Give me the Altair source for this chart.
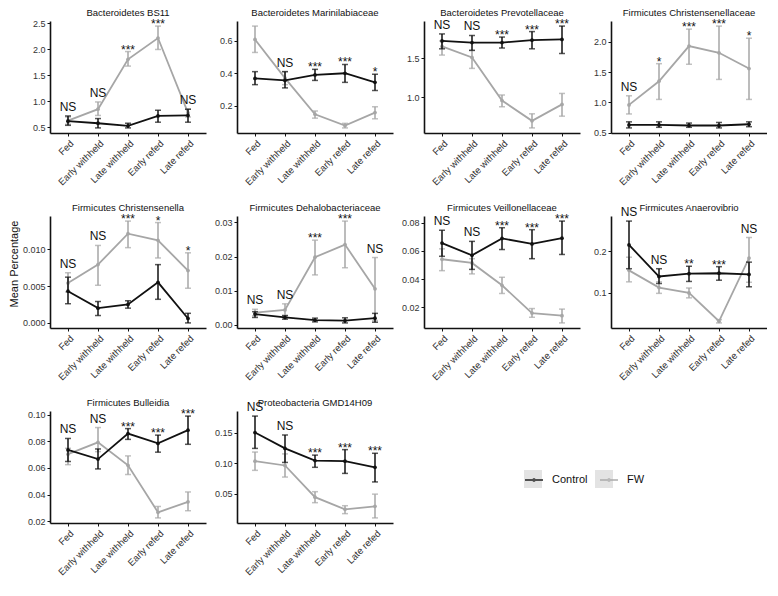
import altair as alt
import pandas as pd

STAGES = ["Fed", "Early withheld", "Late withheld", "Early refed", "Late refed"]
GROUPS = ["Control", "FW"]

TITLES = [
    "Bacteroidetes BS11", "Bacteroidetes Marinilabiaceae", "Bacteroidetes Prevotellaceae",
    "Firmicutes Christensenellaceae", "Firmicutes Christensenella", "Firmicutes Dehalobacteriaceae",
    "Firmicutes Veillonellaceae", "Firmicutes Anaerovibrio", "Firmicutes Bulleidia",
    "Proteobacteria GMD14H09",
]
Y_TICKS = [
    [0.5, 1.0, 1.5, 2.0, 2.5], [0.2, 0.4, 0.6], [1.0, 1.5], [0.5, 1.0, 1.5, 2.0],
    [0.0, 0.005, 0.010], [0.0, 0.01, 0.02, 0.03], [0.02, 0.04, 0.06, 0.08],
    [0.1, 0.2], [0.02, 0.04, 0.06, 0.08, 0.10], [0.05, 0.10, 0.15],
]
Y_FORMATS = [".1f", ".1f", ".1f", ".1f", ".3f", ".2f", ".2f", ".1f", ".2f", ".2f"]

CTRL_MEAN = [
    [0.62, 0.58, 0.53, 0.72, 0.73],
    [0.368, 0.356, 0.39, 0.40, 0.344],
    [1.72, 1.70, 1.70, 1.73, 1.74],
    [0.63, 0.63, 0.62, 0.62, 0.64],
    [0.0043, 0.0020, 0.0025, 0.0055, 0.0006],
    [0.0031, 0.0021, 0.0013, 0.0012, 0.0019],
    [0.0656, 0.0569, 0.0689, 0.0650, 0.0691],
    [0.216, 0.139, 0.146, 0.147, 0.144],
    [0.0736, 0.0667, 0.0859, 0.0785, 0.0884],
    [0.150, 0.124, 0.104, 0.103, 0.093],
]
CTRL_LO = [
    [0.54, 0.49, 0.49, 0.60, 0.60],
    [0.33, 0.31, 0.356, 0.344, 0.294],
    [1.62, 1.60, 1.63, 1.62, 1.56],
    [0.58, 0.59, 0.59, 0.58, 0.60],
    [0.0026, 0.0010, 0.0020, 0.0032, 0.0000],
    [0.0021, 0.0016, 0.0008, 0.0005, 0.0007],
    [0.0562, 0.0469, 0.0610, 0.0545, 0.0575],
    [0.158, 0.122, 0.127, 0.130, 0.114],
    [0.0649, 0.0593, 0.0815, 0.0719, 0.0778],
    [0.124, 0.101, 0.093, 0.083, 0.069],
]
CTRL_HI = [
    [0.72, 0.67, 0.58, 0.83, 0.85],
    [0.41, 0.41, 0.424, 0.454, 0.394],
    [1.81, 1.79, 1.77, 1.84, 1.91],
    [0.68, 0.68, 0.66, 0.67, 0.68],
    [0.0062, 0.0029, 0.0030, 0.0079, 0.0013],
    [0.0038, 0.0026, 0.0019, 0.0020, 0.0033],
    [0.0747, 0.0668, 0.0765, 0.0751, 0.0812],
    [0.274, 0.158, 0.164, 0.163, 0.174],
    [0.0822, 0.0743, 0.0896, 0.0847, 0.0990],
    [0.177, 0.146, 0.113, 0.122, 0.116],
]
FW_MEAN = [
    [0.63, 0.85, 1.81, 2.22, 0.78],
    [0.608, 0.37, 0.148, 0.078, 0.158],
    [1.65, 1.51, 0.96, 0.70, 0.91],
    [0.96, 1.35, 1.93, 1.82, 1.56],
    [0.0054, 0.0079, 0.0121, 0.0112, 0.0071],
    [0.0035, 0.0043, 0.0198, 0.0235, 0.0105],
    [0.0541, 0.0515, 0.0356, 0.0159, 0.0140],
    [0.154, 0.112, 0.099, 0.030, 0.184],
    [0.0704, 0.0793, 0.0620, 0.0267, 0.0346],
    [0.103, 0.096, 0.044, 0.024, 0.029],
]
FW_LO = [
    [0.56, 0.73, 1.68, 2.00, 0.70],
    [0.528, 0.33, 0.124, 0.064, 0.12],
    [1.54, 1.37, 0.88, 0.61, 0.76],
    [0.81, 1.05, 1.63, 1.38, 1.05],
    [0.0042, 0.0051, 0.0102, 0.0088, 0.0047],
    [0.0026, 0.0028, 0.0146, 0.0167, 0.0012],
    [0.0460, 0.0437, 0.0298, 0.0129, 0.0089],
    [0.126, 0.098, 0.087, 0.026, 0.125],
    [0.0625, 0.0723, 0.0551, 0.0225, 0.0279],
    [0.088, 0.077, 0.035, 0.017, 0.010],
]
FW_HI = [
    [0.70, 0.99, 1.96, 2.45, 0.85],
    [0.69, 0.41, 0.168, 0.092, 0.194],
    [1.72, 1.60, 1.03, 0.79, 1.05],
    [1.11, 1.64, 2.21, 2.26, 2.06],
    [0.0068, 0.0105, 0.0138, 0.0136, 0.0095],
    [0.0045, 0.0061, 0.0248, 0.0304, 0.0197],
    [0.0615, 0.0545, 0.0413, 0.0191, 0.0187],
    [0.186, 0.126, 0.111, 0.034, 0.234],
    [0.0748, 0.0904, 0.0691, 0.0311, 0.0420],
    [0.118, 0.115, 0.053, 0.030, 0.049],
]
SIG = [
    ["NS", "NS", "***", "***", "NS"],
    ["", "NS", "***", "***", "*"],
    ["NS", "NS", "***", "***", "***"],
    ["NS", "*", "***", "***", "*"],
    ["NS", "NS", "***", "*", "*"],
    ["NS", "NS", "***", "***", "NS"],
    ["NS", "NS", "***", "***", "***"],
    ["NS", "NS", "**", "***", "NS"],
    ["NS", "NS", "***", "***", "***"],
    ["NS", "NS", "***", "***", "***"],
]

FONT = "Liberation Sans"
W, H = 156, 112
TOP = 13
COLORS = ["#111111", "#a6a6a6"]
KEY_BG = "#e3e3e3"
LEG_X, LEG_Y = 474, 449
KEYS = [g + "_key" for g in GROUPS]

rows = []
for p in range(len(TITLES)):
    series = {
        "Control": (CTRL_MEAN[p], CTRL_LO[p], CTRL_HI[p]),
        "FW": (FW_MEAN[p], FW_LO[p], FW_HI[p]),
    }
    for g in GROUPS:
        m, lo, hi = series[g]
        for i, s in enumerate(STAGES):
            rows.append({"panel": p, "stage": s, "group": g, "key": g + "_key",
                         "mean": m[i], "lo": lo[i], "hi": hi[i]})
df = pd.DataFrame(rows)

legend = alt.Legend(
    title=None, orient="none", legendX=LEG_X, legendY=LEG_Y, direction="horizontal",
    symbolType="M-1,0H1M-0.1,0a0.1,0.1 0 1,0 0.2,0a0.1,0.1 0 1,0 -0.2,0",
    symbolSize=324, symbolStrokeWidth=2, labelFont=FONT, labelFontSize=11,
    labelColor="#111111", columnPadding=8, labelOffset=8, zindex=2,
)
# grey key boxes behind the legend symbols (no labels)
key_legend = alt.Legend(
    title=None, orient="none", legendX=LEG_X, legendY=LEG_Y, direction="horizontal",
    symbolType="square", symbolSize=324, symbolFillColor=KEY_BG, symbolStrokeWidth=0,
    symbolOpacity=1, labelFontSize=11, labelExpr="''",
    columnPadding=53, labelOffset=0, zindex=1,
)
color = alt.Color("group:N", scale=alt.Scale(domain=GROUPS, range=COLORS), legend=legend)


def panel(p, left_ext, ytitle=False, keys=False):
    d = df[df.panel == p]
    ymin = min(CTRL_LO[p] + FW_LO[p])
    ymax = max(CTRL_HI[p] + FW_HI[p])
    pad = 0.05 * (ymax - ymin)
    yscale = alt.Scale(domain=[ymin - pad, ymax + pad], nice=False, zero=False)
    yaxis = alt.Axis(
        title=None, values=Y_TICKS[p], format=Y_FORMATS[p], grid=False,
        labelFont=FONT, labelFontSize=9, labelColor="#333333", tickSize=3,
        tickColor="#111111", domainColor="#111111", domainWidth=1.6, labelPadding=2,
    )
    xenc = alt.X(
        "stage:N", sort=STAGES, scale=alt.Scale(type="point", padding=0.6),
        axis=alt.Axis(
            title=None, labelAngle=-45, labelFont=FONT, labelFontSize=9.5,
            labelColor="#333333", tickSize=3, tickColor="#111111",
            domainColor="#111111", domainWidth=1.6, labelPadding=2, grid=False,
        ),
    )
    layers = []
    if keys:
        layers.append(alt.Chart(d).mark_point(filled=True, size=0, color=KEY_BG).encode(
            x=xenc, y=alt.Y("mean:Q", scale=yscale, axis=yaxis),
            shape=alt.Shape("key:N", scale=alt.Scale(domain=KEYS, range=["square", "square"]),
                            legend=key_legend)))
    for g in ["FW", "Control"]:
        base = alt.Chart(d).transform_filter(alt.datum.group == g).encode(x=xenc, color=color)
        layers.append(base.mark_rule(strokeWidth=1.5).encode(
            y=alt.Y("lo:Q", scale=yscale, axis=yaxis), y2="hi:Q"))
        layers.append(base.mark_tick(size=6, thickness=1.5).encode(
            y=alt.Y("lo:Q", scale=yscale, axis=yaxis)))
        layers.append(base.mark_tick(size=6, thickness=1.5).encode(
            y=alt.Y("hi:Q", scale=yscale, axis=yaxis)))
        layers.append(base.mark_line(strokeWidth=1.8).encode(
            y=alt.Y("mean:Q", scale=yscale, axis=yaxis)))
        layers.append(base.mark_point(filled=True, size=14, opacity=1).encode(
            y=alt.Y("mean:Q", scale=yscale, axis=yaxis)))

    lab = pd.DataFrame({
        "stage": STAGES,
        "label": SIG[p],
        "top": [max(CTRL_HI[p][i], FW_HI[p][i]) for i in range(len(STAGES))],
    })
    tbase = alt.Chart(lab).encode(
        x=xenc, y=alt.Y("top:Q", scale=yscale, axis=yaxis), text="label:N")
    layers.append(tbase.transform_filter(alt.datum.label == "NS").mark_text(
        font=FONT, fontSize=12, baseline="alphabetic", dy=-5, color="#111111"))
    layers.append(tbase.transform_filter("datum.label != 'NS' && datum.label != ''").mark_text(
        font=FONT, fontSize=12, baseline="alphabetic", dy=2, color="#111111"))

    one = pd.DataFrame({"k": [0]})
    # invisible frame so that every panel of a column has the same bounds
    layers.append(alt.Chart(one).mark_rect(opacity=0).encode(
        x=alt.value(-left_ext), x2=alt.value(W), y=alt.value(-TOP), y2=alt.value(0)))
    # panel title
    layers.append(alt.Chart(one).mark_text(
        font=FONT, fontSize=9.5, color="#111111", align="center", baseline="alphabetic"
    ).encode(x=alt.value(W / 2), y=alt.value(-5), text=alt.value(TITLES[p])))
    if ytitle:
        layers.append(alt.Chart(one).mark_text(
            angle=270, font=FONT, fontSize=11, color="#111111", align="center", baseline="middle"
        ).encode(x=alt.value(-35), y=alt.value(H / 2 - 8), text=alt.value("Mean Percentage")))

    return alt.layer(*layers).properties(width=W, height=H)


SP = 3
row1 = alt.hconcat(panel(0, 42, keys=True), panel(1, 28), panel(2, 28), panel(3, 28), spacing=SP)
row2 = alt.hconcat(panel(4, 42, ytitle=True), panel(5, 28), panel(6, 28), panel(7, 28), spacing=SP)
row3 = alt.hconcat(panel(8, 42), panel(9, 28), spacing=SP)

chart = alt.vconcat(row1, row2, row3, spacing=16).resolve_scale(
    color="shared", shape="shared"
).properties(padding=0).configure_view(stroke=None)

chart.save("out.html", embed_options={"renderer": "svg", "actions": False})
